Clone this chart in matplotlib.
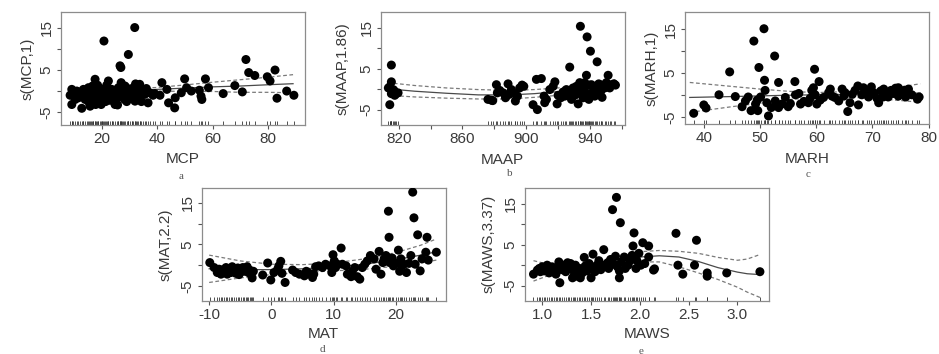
import numpy as np
import matplotlib
matplotlib.use("Agg")
from matplotlib import pyplot as plt

plt.rcParams["font.family"] = ["Liberation Sans", "DejaVu Sans"]

# partial residuals, (x, s(x)) per panel
MCP_POINTS = [
    (31.9, 15.1), (20.8, 11.9), (29.6, 8.7), (26.6, 6.0), (26.9, 5.6), (72.0, 7.5),
    (73.0, 4.4), (75.2, 3.7), (82.5, 5.0), (79.7, 3.4), (80.7, 2.4), (17.6, 2.8),
    (49.9, 2.9), (57.4, 2.9), (41.7, 2.0), (68.0, 1.3), (58.5, 0.8), (63.8, -0.6),
    (70.7, -0.2), (86.7, 0.0), (89.3, -1.0), (83.2, -1.7), (46.3, -4.0), (44.1, -2.8),
    (46.5, -1.6), (43.5, 0.4), (50.6, 0.8), (52.3, 0.0), (55.2, 0.2), (55.8, -1.2),
    (56.1, -2.0), (41.0, -1.0), (39.1, -0.6), (48.7, -0.4),
    (9.2, 0.4), (8.6, -1.0), (9.8, -0.8), (9.2, -3.2), (11.0, 0.0), (11.6, -1.6),
    (12.8, -4.1), (13.4, 0.4), (13.4, -0.6), (14.0, -2.0), (14.6, -1.0), (15.2, 0.8),
    (15.5, -2.8), (16.2, -0.4), (16.4, -1.6), (16.7, 1.2), (17.0, -2.4), (17.6, -1.0),
    (18.2, 0.2), (18.8, -1.7), (19.4, -0.6), (19.8, -3.2), (20.2, 0.4), (20.6, -1.4),
    (21.2, -0.4), (21.8, 1.4), (22.4, 2.4), (22.4, -1.0), (23.0, -2.2), (23.6, 0.4),
    (24.2, -0.6), (24.8, -3.2), (25.4, -1.7), (25.7, -3.3), (26.0, 0.8), (26.6, -0.6),
    (27.2, -1.4), (27.8, 0.0), (28.4, 1.2), (29.0, -2.5), (29.6, -1.0), (30.2, 0.0),
    (30.8, -1.6), (31.4, 0.8), (32.0, -2.4), (32.2, 1.7), (32.8, -1.0), (33.1, 0.2),
    (33.7, -1.2), (34.3, -2.5), (34.9, 0.4), (35.5, -0.8), (36.1, 0.6), (36.7, -2.8),
    (37.3, -0.4), (38.5, -1.0), (10.4, -2.0), (12.2, -0.4), (15.8, -3.6), (17.8, -3.2),
    (18.5, 1.4), (21.4, -2.5), (27.0, 2.0), (29.3, 0.6), (31.0, -0.6), (20.0, -2.0),
    (23.8, -1.7), (28.2, -2.0), (33.7, 1.6),
]
MAAP_POINTS = [
    (815.4, 5.9), (815.4, 1.8), (814.4, 0.6), (813.5, 0.3), (816.5, -0.1), (817.0, -0.3),
    (815.4, -1.1), (817.5, -1.5), (814.4, -3.8), (819.6, -0.9), (818.0, -1.2),
    (876.0, -2.5), (878.2, -2.7), (879.0, -2.8), (881.3, 1.1), (881.9, -0.9), (883.4, -0.3),
    (885.5, -0.9), (887.0, -2.1), (888.6, 1.3), (889.2, -1.3), (890.7, -0.1), (892.8, -1.1),
    (893.2, -2.9), (894.5, -1.7), (895.9, 0.3), (897.4, 1.0), (898.5, 0.7),
    (904.3, -3.8), (907.0, -5.0), (906.4, 2.4), (909.5, 2.6), (911.2, -1.7), (911.6, -3.3),
    (912.7, -2.5), (914.8, -0.1), (916.9, 0.7), (918.0, 1.8), (919.4, -3.6), (920.0, -1.5),
    (921.7, -2.1), (923.1, -0.7), (924.2, -1.7), (925.2, -0.1), (927.3, 5.4), (926.7, -1.1),
    (928.4, -2.5), (929.4, 0.3), (930.5, -1.5), (931.5, 0.7), (932.6, -3.6), (933.6, 1.6),
    (934.0, 15.4), (935.0, -0.5), (935.7, -2.1), (936.7, 0.3), (937.8, 3.4), (938.2, 12.8),
    (938.8, -1.3), (939.3, -2.5), (940.3, 9.3), (940.9, 1.1), (942.0, -0.5), (943.0, -1.7),
    (944.5, 6.7), (944.1, 0.5), (945.5, 1.3), (946.8, -0.5), (947.6, -2.0), (949.3, 0.3),
    (950.3, 1.6), (951.4, 3.4), (952.4, 0.3), (953.5, 1.1), (955.1, 1.3), (956.0, 1.0),
    (932.6, -0.5), (928.8, -1.0), (934.6, -1.3), (936.7, 1.6), (939.5, 1.0), (941.5, -1.5),
    (947.2, 1.0),
]
MARH_POINTS = [
    (38.2, -4.1), (40.0, -2.2), (40.4, -2.9), (42.7, 0.1), (44.6, 5.3), (45.6, -0.3),
    (46.8, -2.6), (47.4, -1.3), (47.9, -0.4), (48.4, -3.5), (48.9, 12.3), (49.2, -2.0),
    (49.5, -1.1), (49.8, 6.3), (49.6, -3.5), (50.1, -0.4), (50.7, 15.1), (50.8, 3.4),
    (50.9, 1.1), (51.2, -1.7), (51.5, -4.7), (52.0, -2.8), (52.6, 8.9), (52.7, -1.3),
    (53.3, 2.9), (53.3, -2.8), (53.9, -2.0), (54.5, -0.5), (55.0, -2.6), (55.4, -1.9),
    (56.2, 3.1), (56.3, 0.1), (56.9, 0.4), (57.2, -2.0), (57.8, -1.4), (58.6, -1.7),
    (58.9, -0.7), (59.2, 1.1), (59.7, 5.9), (59.5, 1.7), (59.8, 0.1), (60.1, -2.0),
    (60.5, 3.1), (60.7, -1.1), (61.3, -0.5), (62.2, 0.6), (62.5, 1.4), (62.8, -0.2),
    (63.3, -0.5), (64.0, -1.3), (64.6, 1.4), (64.9, -0.2), (65.1, 0.6), (65.6, -3.7),
    (66.0, -1.7), (66.4, 0.2), (66.9, 1.1), (67.4, 2.1), (67.5, -2.2), (68.1, 0.1),
    (68.4, 1.7), (69.0, 1.0), (69.3, -0.4), (69.8, 1.9), (70.2, 0.6), (70.8, -0.7),
    (71.1, -1.7), (71.5, 1.0), (72.0, 1.4), (72.4, 0.1), (72.8, -0.4), (73.3, 1.1),
    (73.7, 0.4), (74.1, 1.6), (74.6, -0.2), (75.2, 0.6), (75.7, 1.1), (75.9, -0.4),
    (76.4, 1.4), (77.0, 0.1), (78.0, -0.9), (78.3, -0.4), (74.6, 1.7), (71.9, -0.4),
]
MAT_POINTS = [
    (-9.9, 0.6), (-9.2, -0.6), (-8.7, -1.8), (-8.4, -1.0), (-8.1, -2.2), (-7.9, -1.2),
    (-7.6, -1.5), (-7.3, -0.6), (-7.1, -2.2), (-6.8, -1.0), (-6.5, -1.8), (-6.3, -0.4),
    (-6.0, -1.2), (-5.7, -2.0), (-5.4, -0.7), (-5.2, -2.3), (-4.9, -1.2), (-4.6, -0.6),
    (-4.4, -1.5), (-4.1, -1.0), (-3.9, -0.4), (-3.7, -1.8), (-3.5, -1.2), (-3.3, -2.2),
    (-3.1, -3.1), (-2.9, -1.5), (-1.4, -2.4), (-0.6, 0.5), (-0.1, -3.6), (0.4, -1.8),
    (1.0, -1.0), (1.2, -0.2), (1.5, 0.9), (1.7, -2.0), (2.2, -4.2), (3.4, -1.2),
    (3.9, -1.8), (4.5, -2.2), (5.3, -2.6), (5.6, -1.5), (6.1, -2.0), (6.6, -3.0),
    (6.8, -2.2), (7.1, -0.4), (7.6, -0.2), (8.2, -0.6), (8.7, 0.2), (9.4, -0.2),
    (9.7, -1.8), (9.9, 2.5), (10.1, 1.0), (10.3, -0.6), (10.6, 0.2), (11.2, 4.1),
    (11.4, 0.2), (12.0, -0.2), (12.2, -2.2), (12.8, -2.8), (13.0, -1.5), (13.4, -0.6),
    (13.8, -2.8), (14.2, -3.4), (14.6, -0.6), (15.0, 0.2), (15.4, 1.0), (15.9, 2.3),
    (16.5, 1.5), (16.8, -1.0), (17.3, 3.3), (17.6, -2.2), (17.9, 0.6), (18.1, 1.5),
    (18.4, 2.3), (18.8, 13.0), (18.9, 6.7), (19.0, 0.6), (19.4, 1.7), (19.6, -0.2),
    (20.0, 0.4), (20.4, 3.6), (20.8, 1.5), (20.9, -0.2), (21.7, -1.8), (22.1, 0.4),
    (22.7, 17.6), (22.9, 11.4), (23.1, 0.2), (23.5, 7.3), (23.9, -1.4), (24.2, 1.5),
    (24.8, 3.1), (25.0, 6.7), (25.2, 1.2), (26.5, 3.1), (22.4, 2.3), (21.3, 0.2),
    (20.6, -1.5),
]
MAWS_POINTS = [
    (0.91, -2.2), (0.95, -1.2), (0.97, -0.8), (0.98, -1.6), (1.00, -0.4), (1.02, -1.4),
    (1.03, -0.8), (1.05, 0.0), (1.07, -1.9), (1.09, -1.1), (1.10, -0.4), (1.12, -1.4),
    (1.14, -2.2), (1.15, -0.8), (1.17, 0.8), (1.18, -4.3), (1.20, -1.1), (1.22, 0.0),
    (1.24, -1.6), (1.26, 0.6), (1.27, -0.6), (1.29, 0.4), (1.31, -3.1), (1.32, -1.4),
    (1.34, 0.0), (1.36, -2.7), (1.38, -0.8), (1.39, -3.1), (1.41, -1.9), (1.43, 1.9),
    (1.44, -0.2), (1.46, -1.4), (1.48, 0.4), (1.50, -3.1), (1.51, -0.8), (1.52, 2.7),
    (1.54, -1.6), (1.56, 0.0), (1.58, 1.1), (1.60, -1.1), (1.63, 3.8), (1.64, 0.0),
    (1.67, 0.6), (1.68, -0.8), (1.70, 1.4), (1.72, 13.6), (1.74, 0.2), (1.75, 2.2),
    (1.76, 16.6), (1.77, -0.4), (1.79, -1.4), (1.79, -3.1), (1.80, 10.4), (1.81, 0.8),
    (1.84, 2.0), (1.85, -0.8), (1.88, 0.0), (1.90, 1.1), (1.92, 2.4), (1.93, 4.7),
    (1.94, 7.9), (1.96, -0.8), (1.97, 1.1), (1.99, 2.9), (2.01, 0.0), (2.03, 5.5),
    (2.05, 0.4), (2.09, 4.7), (2.09, 2.0), (2.14, -1.2), (2.15, -0.9), (2.37, 7.8),
    (2.39, 0.0), (2.44, -2.2), (2.56, 0.0), (2.58, 6.1), (2.69, -1.9), (2.69, -2.7),
    (2.89, -1.9), (3.23, -1.6),
]

# smooth term with its +-2 se band, read at a few x positions
MCP_CURVE_X = [9, 20, 30, 40, 50, 60, 70, 80, 89]
MCP_FIT = [-0.5, -0.2, 0.1, 0.4, 0.7, 1.0, 1.2, 1.5, 1.75]
MCP_LO = [-1.7, -1.1, -0.4, -0.05, -0.05, -0.1, -0.3, -0.3, -0.4]
MCP_HI = [0.7, 0.7, 0.6, 0.85, 1.45, 2.1, 2.7, 3.3, 3.9]

MAAP_CURVE_X = [813, 830, 850, 870, 890, 905, 920, 935, 950, 957]
MAAP_FIT = [0.1, -0.5, -1.0, -1.4, -1.4, -1.1, -0.6, 0.1, 0.9, 1.3]
MAAP_LO = [-1.5, -1.9, -2.2, -2.4, -2.4, -2.0, -1.5, -0.7, 0.0, 0.3]
MAAP_HI = [1.6, 0.9, 0.3, -0.1, -0.3, -0.1, 0.3, 0.9, 1.9, 2.4]

MARH_CURVE_X = [37.5, 45, 50, 55, 60, 65, 70, 75, 78.5]
MARH_FIT = [-0.5, -0.3, -0.15, 0.0, 0.1, 0.2, 0.3, 0.4, 0.5]
MARH_LO = [-3.9, -2.6, -1.8, -1.0, -0.5, -0.4, -0.7, -1.2, -1.6]
MARH_HI = [2.9, 2.0, 1.4, 0.9, 0.6, 0.8, 1.3, 1.9, 2.6]

MAT_CURVE_X = [-10, -5, 0, 5, 10, 15, 20, 24, 26.5]
MAT_FIT = [-0.9, -1.1, -1.1, -0.9, -0.5, 0.2, 1.3, 2.4, 3.2]
MAT_LO = [-4.2, -3.1, -2.3, -1.8, -1.4, -1.0, -0.3, 0.5, 1.2]
MAT_HI = [2.4, 1.0, 0.2, 0.1, 0.5, 1.5, 3.0, 4.8, 6.3]

MAWS_CURVE_X = [0.91, 1.1, 1.3, 1.5, 1.7, 1.9, 2.0, 2.2, 2.4, 2.6, 2.8, 3.0, 3.1, 3.23]
MAWS_FIT = [-1.4, -1.1, -0.8, -0.4, 0.3, 1.4, 2.0, 2.3, 2.0, 0.9, -0.6, -1.7, -2.1, -2.3]
MAWS_LO = [-3.9, -2.2, -1.4, -1.0, -0.3, 0.5, 0.8, 0.8, -0.4, -1.9, -3.5, -5.4, -6.6, -7.9]
MAWS_HI = [1.1, 0.0, -0.2, 0.2, 0.9, 2.3, 3.3, 3.6, 3.4, 2.9, 1.9, 1.2, 1.5, 2.6]

Y_TICKS = [-5, 0, 5, 10, 15]
Y_TICK_LABELS = ["-5", "", "5", "", "15"]

W, H = 939, 354
TEXT = "#3a3a3a"


def draw_panel(rect_px, points, curve, xlim, ylim, xticks, xticklabels,
               xlabel, ylabel, caption, ylabel_dx, xlabel_dy, caption_xy):
    """Draw one plot.gam style panel; rect_px = (left, top, right, bottom) in pixels."""
    left, top, right, bottom = rect_px
    ax = fig.add_axes([left / W, 1 - bottom / H, (right - left) / W, (bottom - top) / H])
    pts = np.array(points)
    cx, fit, lo, hi = (np.array(c) for c in curve)
    ax.plot(cx, fit, "-", color="#4a4a4a", lw=0.9, zorder=2)
    ax.plot(cx, lo, "--", color="#7a7a7a", lw=0.9, dashes=(3, 2), zorder=2)
    ax.plot(cx, hi, "--", color="#7a7a7a", lw=0.9, dashes=(3, 2), zorder=2)
    # rug of the covariate values
    ax.vlines(pts[:, 0], 0, 0.035, transform=ax.get_xaxis_transform(),
              color="#333333", lw=0.6, zorder=2)
    ax.scatter(pts[:, 0], pts[:, 1], s=42, color="black", edgecolors="none", zorder=3)
    ax.set_xlim(*xlim)
    ax.set_ylim(*ylim)
    ax.set_xticks(xticks)
    ax.set_xticklabels(xticklabels)
    ax.set_yticks(Y_TICKS)
    ax.set_yticklabels(Y_TICK_LABELS)
    ax.tick_params(direction="out", length=3, width=0.8, color="#555555",
                   labelsize=11, labelcolor=TEXT, pad=2)
    ax.tick_params(axis="y", labelrotation=90)
    for lab in ax.get_yticklabels():
        lab.set_va("center")
    for sp in ax.spines.values():
        sp.set_color("#8c8c8c")
        sp.set_linewidth(0.9)
    ax.set_xlabel(xlabel, fontsize=11, color=TEXT)
    ax.set_ylabel(ylabel, fontsize=11, color=TEXT)
    ax.xaxis.label.set_va("center")
    ax.yaxis.label.set_va("center")
    ax.xaxis.set_label_coords(0.5, -xlabel_dy / (bottom - top))
    ax.yaxis.set_label_coords(-ylabel_dx / (right - left), 0.5)
    fig.text(caption_xy[0] / W, 1 - caption_xy[1] / H, caption, ha="center", va="center",
             fontsize=8, color="#555555", family=["Liberation Serif", "DejaVu Serif"])
    return ax


fig = plt.figure(figsize=(W / 100, H / 100), dpi=100)

draw_panel((60.7, 12, 304.7, 124.7), MCP_POINTS, (MCP_CURVE_X, MCP_FIT, MCP_LO, MCP_HI),
           (5.2, 93.2), (-8.0, 18.8), [20, 40, 60, 80], ["20", "40", "60", "80"],
           "MCP", "s(MCP,1)", "a", 33, 34, (181, 176))
draw_panel((380.7, 12, 624.7, 124.7), MAAP_POINTS, (MAAP_CURVE_X, MAAP_FIT, MAAP_LO, MAAP_HI),
           (808.7, 961.8), (-8.7, 18.9), [820, 840, 860, 880, 900, 920, 940, 960],
           ["820", "", "860", "", "900", "", "940", ""],
           "MAAP", "s(MAAP,1.86)", "b", 38, 35, (510, 174))
draw_panel((684.7, 12, 928.7, 124.3), MARH_POINTS, (MARH_CURVE_X, MARH_FIT, MARH_LO, MARH_HI),
           (36.6, 79.9), (-6.6, 18.9), [40, 50, 60, 70, 80], ["40", "50", "60", "70", "80"],
           "MARH", "s(MARH,1)", "c", 33, 35, (808, 175))
draw_panel((201.7, 188, 445.7, 300.7), MAT_POINTS, (MAT_CURVE_X, MAT_FIT, MAT_LO, MAT_HI),
           (-11.2, 28.0), (-8.6, 18.6), [-10, 0, 10, 20], ["-10", "0", "10", "20"],
           "MAT", "s(MAT,2.2)", "d", 36, 33, (322, 350))
draw_panel((524.7, 188, 768.7, 300.7), MAWS_POINTS, (MAWS_CURVE_X, MAWS_FIT, MAWS_LO, MAWS_HI),
           (0.82, 3.32), (-8.7, 18.9), [1.0, 1.5, 2.0, 2.5, 3.0], ["1.0", "1.5", "2.0", "2.5", "3.0"],
           "MAWS", "s(MAWS,3.37)", "e", 36, 33, (641, 351))

fig.savefig("out.png", dpi=100)
